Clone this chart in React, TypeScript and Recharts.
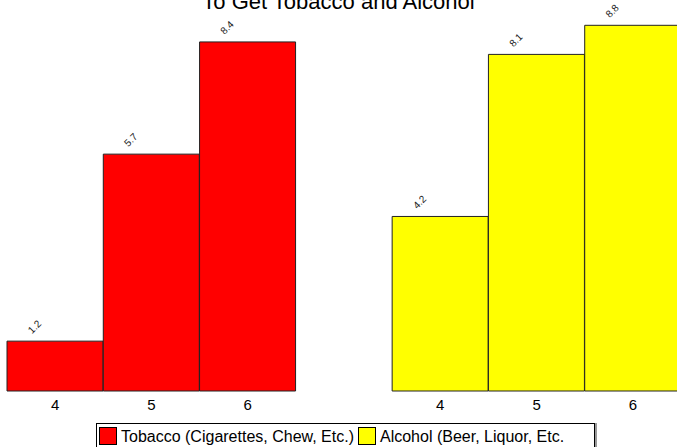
import React from "react";
import { BarChart, Bar, XAxis, YAxis, Cell, LabelList } from "recharts";

const categories = ["4", "5", "6"];
const tobacco = [1.2, 5.7, 8.4];
const alcohol = [4.2, 8.1, 8.8];
const seriesNames = ["Tobacco (Cigarettes, Chew, Etc.)", "Alcohol (Beer, Liquor, Etc."];
const seriesColors = ["#ff0000", "#ffff00"];

const rows = [
  ...categories.map((c, i) => ({ key: "t" + c, label: c, value: tobacco[i], s: 0 })),
  { key: "gap", label: "", value: null, s: -1 },
  ...categories.map((c, i) => ({ key: "a" + c, label: c, value: alcohol[i], s: 1 })),
];

const ValueLabel = (props: any) => {
  const { x, y, value } = props;
  if (value == null) return null;
  const px = x + 25;
  const py = y - 7;
  return (
    <text
      x={px}
      y={py}
      fontSize={10}
      fill="#222"
      textAnchor="start"
      transform={`rotate(-45 ${px} ${py})`}
      fontFamily="Liberation Sans, Arial, sans-serif"
    >
      {value}
    </text>
  );
};

export default function App() {
  const fnt = "Liberation Sans, Arial, sans-serif";
  return (
    <div
      style={{
        position: "absolute",
        left: 0,
        top: 0,
        width: 677,
        height: 447,
        overflow: "hidden",
        background: "#fff",
        fontFamily: fnt,
      }}
    >
      <div
        style={{
          position: "absolute",
          left: 0,
          width: 677,
          top: -9,
          textAlign: "center",
          fontSize: 22,
          lineHeight: "22px",
          color: "#000",
        }}
      >
        To Get Tobacco and Alcohol
      </div>
      <BarChart
        width={681}
        height={447}
        data={rows}
        margin={{ top: 17, right: 0, left: 7, bottom: 26 }}
        barCategoryGap={0}
      >
        <YAxis hide domain={[0, 9]} />
        <XAxis
          dataKey="key"
          height={30}
          axisLine={false}
          tickLine={false}
          interval={0}
          tickFormatter={(v: string) => rows.find((r) => r.key === v)?.label ?? ""}
          tick={{ fontSize: 15, fill: "#000", fontFamily: fnt }}
        />
        <Bar dataKey="value" stroke="#222" strokeWidth={1} isAnimationActive={false}>
          {rows.map((r) => (
            <Cell key={r.key} fill={r.s >= 0 ? seriesColors[r.s] : "none"} />
          ))}
          <LabelList dataKey="value" content={ValueLabel} />
        </Bar>
      </BarChart>
      <div
        style={{
          position: "absolute",
          left: 96,
          top: 423,
          width: 499,
          height: 30,
          border: "1px solid #000",
          boxShadow: "2px 0 0 #999",
          display: "flex",
          alignItems: "flex-start",
          paddingTop: 3,
          paddingLeft: 2,
          boxSizing: "border-box",
          fontSize: 16,
          lineHeight: "17px",
          color: "#000",
          whiteSpace: "nowrap",
        }}
      >
        {seriesNames.map((n, i) => (
          <div key={n} style={{ display: "flex", alignItems: "center", marginRight: 4 }}>
            <span
              style={{
                display: "inline-block",
                width: 16,
                height: 16,
                background: seriesColors[i],
                border: "1px solid #000",
                marginRight: 4,
              }}
            />
            <span>{n}</span>
          </div>
        ))}
      </div>
    </div>
  );
}
